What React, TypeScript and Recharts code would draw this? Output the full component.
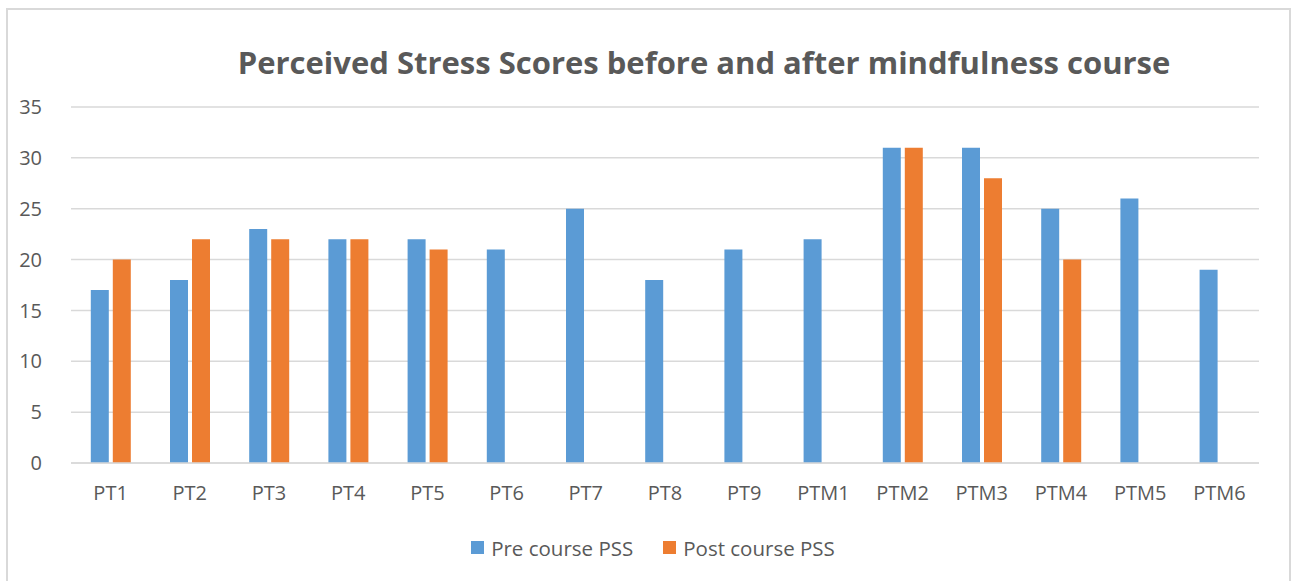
import { FC } from "react";
import { Bar, BarChart, CartesianGrid, XAxis, YAxis } from "recharts";

const categories = ["PT1", "PT2", "PT3", "PT4", "PT5", "PT6", "PT7", "PT8", "PT9", "PTM1", "PTM2", "PTM3", "PTM4", "PTM5", "PTM6"];
const preCourse = [17, 18, 23, 22, 22, 21, 25, 18, 21, 22, 31, 31, 25, 26, 19];
const postCourse: (number | null)[] = [20, 22, 22, 22, 21, null, null, null, null, null, 31, 28, 20, null, null];
const yTicks = [0, 5, 10, 15, 20, 25, 30, 35];

const FONT = "'Open Sans', sans-serif";
const TEXT = "#595959";
const PRE = "#5B9BD5";
const POST = "#ED7D31";

const LegendItem: FC<{ color: string, label: string }> = ({ color, label }) => (
  <span style={ { display: "inline-flex", alignItems: "center", margin: "0 15px" } }>
    <span style={ { width: 13, height: 13, background: color, marginRight: 7, display: "inline-block" } }/>
    { label }
  </span>
);

const App: FC = () => {
  const data = categories.map((name, i) => ({ name, pre: preCourse[i], post: postCourse[i] }));

  return (
    <div style={ { position: "absolute", left: 0, top: 0, width: 1295, height: 581, background: "#fff", fontFamily: FONT } }>
      <div style={ { position: "absolute", left: 6, top: 8, width: 1281, height: 600, border: "2px solid #d9d9d9" } }/>
      <div style={ { position: "absolute", left: 0, width: 1408, top: 41, textAlign: "center", fontSize: 31, fontWeight: 700, color: TEXT } }>
        Perceived Stress Scores before and after mindfulness course
      </div>
      <div style={ { position: "absolute", left: 0, top: 0 } }>
        <BarChart
          width={ 1295 }
          height={ 581 }
          data={ data }
          margin={ { top: 107, right: 36, left: 21, bottom: 58 } }
          barCategoryGap="25%"
          barGap={ 4 }
        >
          <CartesianGrid vertical={ false } stroke="#d9d9d9" strokeWidth={ 1.5 }/>
          <XAxis
            dataKey="name"
            axisLine={ { stroke: "#d9d9d9", strokeWidth: 1.5 } }
            tickLine={ false }
            tick={ { fontSize: 20, fill: TEXT, fontFamily: FONT } }
            tickMargin={ 17 }
            height={ 60 }
          />
          <YAxis
            domain={ [0, 35] }
            ticks={ yTicks }
            axisLine={ false }
            tickLine={ false }
            tick={ { fontSize: 20, fill: TEXT, fontFamily: FONT } }
            width={ 50 }
            tickMargin={ 23 }
          />
          <Bar name="Pre course PSS" dataKey="pre" fill={ PRE } isAnimationActive={ false }/>
          <Bar name="Post course PSS" dataKey="post" fill={ POST } isAnimationActive={ false }/>
        </BarChart>
      </div>
      <div style={ { position: "absolute", left: 0, width: 1306, top: 532, textAlign: "center", fontSize: 20.5, color: TEXT } }>
        <LegendItem color={ PRE } label="Pre course PSS"/>
        <LegendItem color={ POST } label="Post course PSS"/>
      </div>
    </div>
  );
};

export default App;
